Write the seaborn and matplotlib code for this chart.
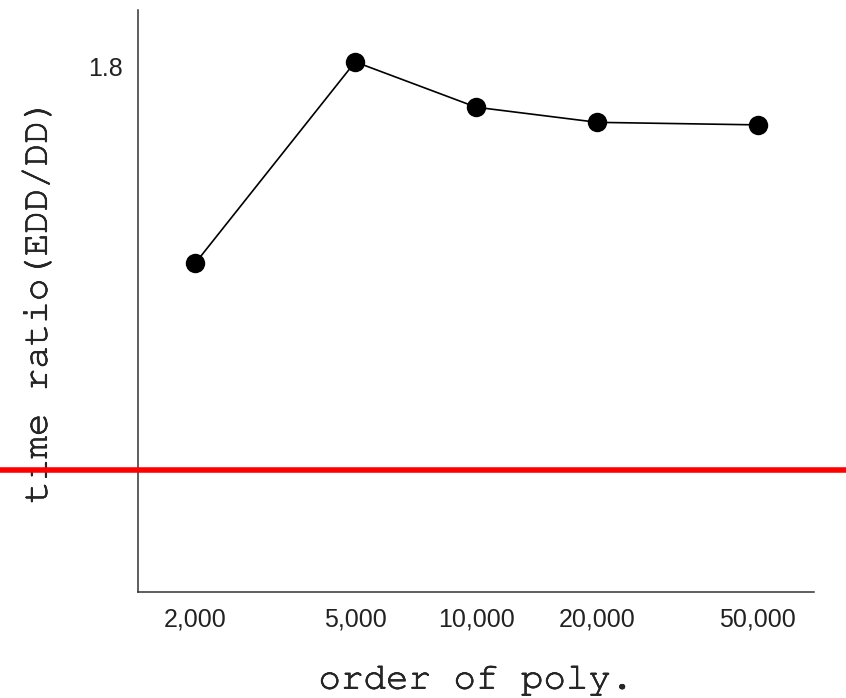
import matplotlib
matplotlib.use("Agg")
import matplotlib.pyplot as plt
from matplotlib import font_manager
import matplotlib.patheffects as pe
import seaborn as sns
import pandas as pd

# polynomial order vs. run-time ratio EDD/DD
orders = [2000, 5000, 10000, 20000, 50000]
ratios = [1.41, 1.81, 1.72, 1.69, 1.685]
order_labels = ["2,000", "5,000", "10,000", "20,000", "50,000"]
ytick_values = [1.8]
ytick_labels = ["1.8"]
baseline = 1.0

sns.set_style("white")
plt.rcParams["font.family"] = ["Liberation Sans", "DejaVu Sans"]

# prefer a Courier-style face for the axis titles when one is installed
installed = {f.name for f in font_manager.fontManager.ttflist}
mono = [f for f in ("Nimbus Mono PS", "Nimbus Mono L", "FreeMono", "Courier New",
                    "Courier", "Liberation Mono", "DejaVu Sans Mono") if f in installed]

df = pd.DataFrame({"order": orders, "ratio": ratios})

fig = plt.figure(figsize=(8.46, 6.98), dpi=100)
ax = fig.add_axes([0.1637, 0.1519, 0.962 - 0.1637, 0.9857 - 0.1519])

sns.lineplot(data=df, x="order", y="ratio", ax=ax, color="black",
             linewidth=1.2, marker="o", markersize=14, markeredgewidth=0)

ax.set_xscale("log")
ax.set_xlim(1447, 69000)
ax.set_ylim(0.758, 1.913)
ax.set_xticks(orders)
ax.set_xticklabels(order_labels)
ax.minorticks_off()
ax.set_yticks(ytick_values)
ax.set_yticklabels(ytick_labels)
ax.tick_params(axis="both", length=0, labelsize=18, colors="#222222")
ax.tick_params(axis="x", pad=11)
ax.tick_params(axis="y", pad=11)

for side in ("top", "right"):
    ax.spines[side].set_visible(False)
for side in ("left", "bottom"):
    ax.spines[side].set_color("#333333")
    ax.spines[side].set_linewidth(1.1)

# reference line at ratio 1, running across the full figure width
left_px, right_px = 138.5, 814.0
w = right_px - left_px
ax.axhline(baseline, xmin=-left_px / w, xmax=(846 - left_px) / w,
           color="red", linewidth=4, clip_on=False, zorder=5)

heavier = [pe.withStroke(linewidth=0.45, foreground="black")]
ax.set_xlabel("order of poly.", fontsize=27, family=mono, labelpad=24,
              path_effects=heavier)
ax.set_ylabel("time ratio(EDD/DD)", fontsize=27, family=mono, labelpad=25,
              path_effects=heavier)

fig.savefig("out.png", dpi=100)
